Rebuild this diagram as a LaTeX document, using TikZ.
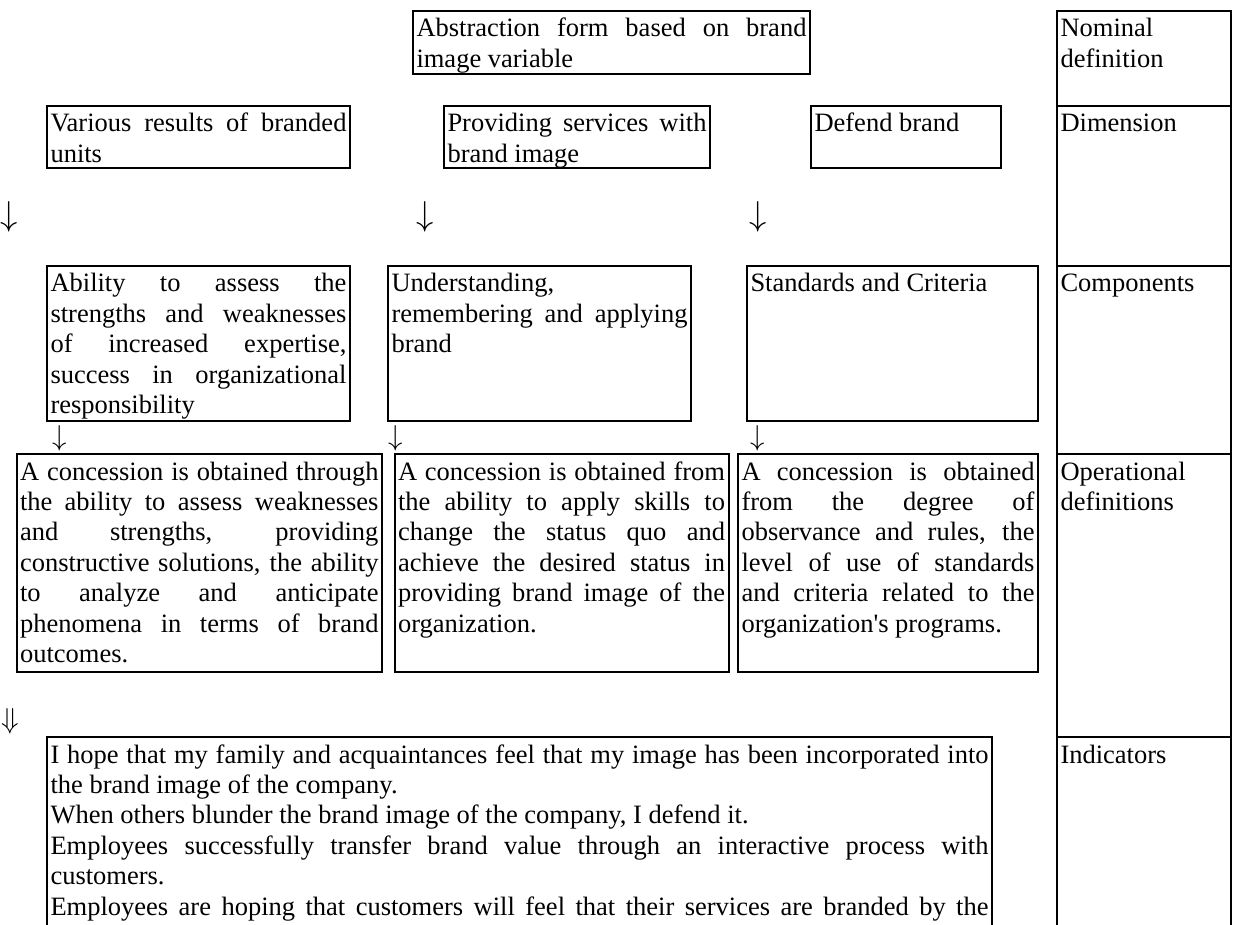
\documentclass[tikz,border=0pt]{standalone}
\usepackage{fontspec}
\setmainfont{Liberation Serif}
\usepackage{tikz}
\usetikzlibrary{positioning}
\tolerance=10000
\hbadness=10000
\hyphenpenalty=10000
\newcommand{\bodyfont}{\fontsize{13.25pt}{15.2pt}\selectfont}
\newcommand{\bigarrowfont}{\fontsize{16.5pt}{18pt}\selectfont}
\tikzset{%
	cell/.style      = {draw, rectangle, line width=1pt, inner xsep=1.75pt, inner ysep=0pt, outer sep=0pt, anchor=north west, align=justify, text height=13pt, font=\bodyfont}, % Box
	levelcell/.style = {cell, align=left, text width=83.5pt}, % Right column
	arrowsym/.style  = {inner sep=0pt, font=\bodyfont}, % Arrow sign
}

\begin{document}
\begin{tikzpicture}[x=0.5pt,y=-0.5pt]
	\useasboundingbox (0,0) rectangle (1236,925);
	\clip (0,0) rectangle (1236,925);
	\node [cell,text width=195pt,text depth=18.5pt] (abstr) at (413,11) {Abstraction form based on brand\linebreak image variable};
	
	\node [cell,text width=148pt,text depth=18pt] (various) at (47,106) {Various results of branded\linebreak units};
	\node [cell,text width=129.5pt,text depth=18pt] (providing) at (444,106) {Providing services with\linebreak brand image};
	\node [cell,text width=91.5pt,text depth=18pt] (defend) at (811,106) {Defend brand};
	
	\node [arrowsym,font=\bigarrowfont] (d1) at (9,217) {$\downarrow$};
	\node [arrowsym,font=\bigarrowfont] (d2) at (425,217) {$\downarrow$};
	\node [arrowsym,font=\bigarrowfont] (d3) at (758,217) {$\downarrow$};
	
	\node [cell,text width=148pt,text depth=64.5pt] (ability) at (47,266) {Ability to assess the\linebreak strengths and weaknesses\linebreak of increased expertise,\linebreak success in organizational\linebreak responsibility};
	\node [cell,text width=148pt,text depth=64.5pt] (understanding) at (388,266) {Understanding,\linebreak remembering and applying\linebreak brand};
	\node [cell,text width=142pt,text depth=64.5pt] (standards) at (747,266) {Standards and Criteria};
	
	\node [arrowsym] (c1) at (60,438) {$\downarrow$};
	\node [arrowsym] (c2) at (396,438) {$\downarrow$};
	\node [arrowsym] (c3) at (758,438) {$\downarrow$};
	
	\node [cell,text width=179.25pt,text depth=96pt] (conc1) at (16.5,454) {A concession is obtained through\linebreak the ability to assess weaknesses\linebreak and strengths, providing\linebreak constructive solutions, the ability\linebreak to analyze and anticipate\linebreak phenomena in terms of brand\linebreak outcomes.};
	\node [cell,text width=163.5pt,text depth=96pt] (conc2) at (394.5,454) {A concession is obtained from\linebreak the ability to apply skills to\linebreak change the status quo and\linebreak achieve the desired status in\linebreak providing brand image of the\linebreak organization.};
	\node [cell,text width=146.5pt,text depth=96pt] (conc3) at (738,454) {A concession is obtained\linebreak from the degree of\linebreak observance and rules, the\linebreak level of use of standards\linebreak and criteria related to the\linebreak organization\textquotesingle s programs.};
	
	\node [arrowsym,font=\fontsize{14.5pt}{16pt}\selectfont] (dd) at (10,721) {$\Downarrow$};
	
	\node [cell,text width=469pt,text depth=99pt] (indic) at (47,737) {I hope that my family and acquaintances feel that my image has been incorporated into\linebreak the brand image of the company.\par
		When others blunder the brand image of the company, I defend it.\par
		Employees successfully transfer brand value through an interactive process with\linebreak customers.\par
		{\parfillskip=0pt Employees are hoping that customers will feel that their services are branded by the\par}};
	
	% right column
	\node [levelcell,text depth=34.5pt] (nominal) at (1057,11) {Nominal\\definition};
	\node [levelcell,text depth=67pt] (dimension) [below right=0pt and 0pt of nominal.south west] {Dimension};
	\node [levelcell,text depth=81pt] (components) [below right=0pt and 0pt of dimension.south west] {Components};
	\node [levelcell,text depth=128.5pt] (operational) [below right=0pt and 0pt of components.south west] {Operational\\definitions};
	\node [levelcell,text depth=99pt] (indicators) [below right=0pt and 0pt of operational.south west] {Indicators};
\end{tikzpicture}
\end{document}
